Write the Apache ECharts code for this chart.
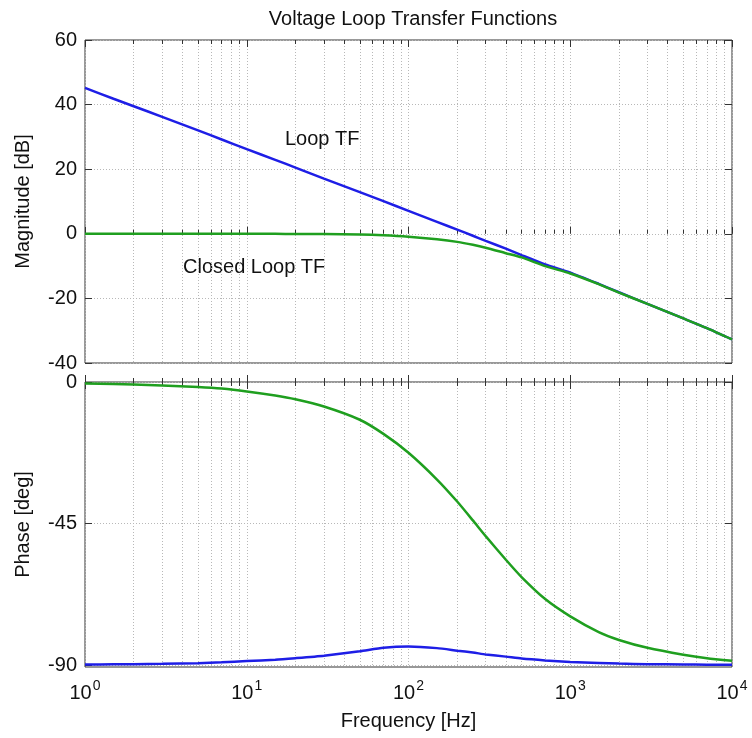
<!DOCTYPE html>
<html>
<head>
<meta charset="utf-8">
<script src="https://cdn.jsdelivr.net/npm/echarts/dist/echarts.min.js"></script>
<style>html,body{margin:0;padding:0;background:#fff}#c{width:752px;height:738px}</style>
</head>
<body>
<div id="c"></div>
<script>
// ---- data ----
const freqs = [1, 1.5, 2, 3, 5, 7, 10, 15, 20, 30, 50, 70, 100, 150, 200, 250, 300, 400, 500, 700, 1000, 1500, 2000, 3000, 5000, 7000, 10000];
const loopMag = [45.2, 41.8, 39.5, 36.2, 32.0, 29.2, 26.2, 22.9, 20.5, 17.1, 12.9, 10.1, 7.1, 3.7, 1.3, -0.6, -2.2, -4.6, -6.6, -9.5, -12.0, -15.5, -18.1, -21.7, -26.2, -29.2, -32.7];
const closedMag = [0, 0, 0, 0, 0, 0, -0.01, -0.02, -0.04, -0.09, -0.22, -0.45, -0.9, -1.7, -2.5, -3.4, -4.3, -6.0, -7.3, -10.0, -12.3, -15.6, -18.2, -21.7, -26.2, -29.2, -32.7];
const loopPhase = [-89.8, -89.75, -89.7, -89.6, -89.4, -89.1, -88.7, -88.3, -87.8, -87.0, -85.6, -84.5, -84.1, -84.6, -85.4, -86.0, -86.6, -87.3, -87.9, -88.5, -89.0, -89.3, -89.5, -89.7, -89.8, -89.85, -89.9];
const closedPhase = [-0.5, -0.65, -0.8, -1.1, -1.6, -2.1, -3.0, -4.3, -5.5, -7.8, -12.0, -16.5, -22.5, -31.0, -38.0, -44.0, -49.0, -56.5, -62.0, -69.0, -74.5, -79.5, -82.0, -84.5, -86.7, -87.8, -88.6];
const majorTicks = [1, 10, 100, 1000, 10000];
const minorTicks = [2,3,4,5,6,7,8,9, 20,30,40,50,60,70,80,90, 200,300,400,500,600,700,800,900, 2000,3000,4000,5000,6000,7000,8000,9000];
const magTicks = [-40, -20, 0, 20, 40, 60];
const phaseTicks = [-90, -45, 0];

const FONT = 'Liberation Sans, Arial, sans-serif';
const BLUE = '#1e1ee6';
const GREEN = '#1f9f1f';
const gridLine = { show: true, lineStyle: { color: '#b8b8b8', type: [1, 2], width: 1 } };

function xAx(gridIndex, position, values, len, split, labels) {
  return {
    type: 'log', logBase: 10, min: 1, max: 10000, gridIndex, position,
    axisLine: { show: false },
    axisTick: { show: true, inside: true, length: len, customValues: values, lineStyle: { color: '#333' } },
    axisLabel: labels ? {
      show: true, customValues: majorTicks, margin: 12, fontFamily: FONT,
      formatter: v => '{b|10}{s|' + Math.round(Math.log10(v)) + '}',
      rich: { b: { fontSize: 20, fontFamily: FONT, color: '#111' }, s: { fontSize: 14, fontFamily: FONT, color: '#111', padding: [0, 0, 14, 1] } }
    } : { show: false },
    splitLine: split ? Object.assign({}, gridLine) : { show: false },
    name: labels ? 'Frequency [Hz]' : '', nameLocation: 'middle', nameGap: 44,
    nameTextStyle: { fontSize: 20, fontFamily: FONT, color: '#111' }
  };
}
function yAx(gridIndex, position, min, max, ticks, labels, name) {
  return {
    type: 'value', gridIndex, position, min, max,
    axisLine: { show: false },
    axisTick: { show: true, inside: true, length: 7, customValues: ticks, lineStyle: { color: '#333' } },
    axisLabel: labels ? { show: true, customValues: ticks, fontSize: 20, fontFamily: FONT, color: '#111', margin: 8 } : { show: false },
    splitLine: labels ? Object.assign({}, gridLine) : { show: false },
    name: labels ? name : '', nameLocation: 'middle', nameGap: 52,
    nameTextStyle: { fontSize: 20, fontFamily: FONT, color: '#111' }
  };
}
const pts = arr => freqs.map((f, i) => [f, arr[i]]);
const lineSeries = (name, xi, yi, arr, color) => ({
  name, type: 'line', xAxisIndex: xi, yAxisIndex: yi, data: pts(arr),
  smooth: 0.2, showSymbol: false, lineStyle: { color, width: 2.5 }
});

const chart = echarts.init(document.getElementById('c'));
chart.setOption({
  animation: false,
  backgroundColor: '#fff',
  title: { text: 'Voltage Loop Transfer Functions', left: 408, top: 4, textAlign: 'center',
    textStyle: { fontSize: 20, fontWeight: 'normal', fontFamily: FONT, color: '#111' } },
  grid: [
    { left: 85, right: 20, top: 40, height: 323, show: true, borderColor: '#333', borderWidth: 1, backgroundColor: 'transparent' },
    { left: 85, right: 20, top: 382, height: 285, show: true, borderColor: '#333', borderWidth: 1, backgroundColor: 'transparent' }
  ],
  xAxis: [
    xAx(0, 'bottom', minorTicks, 4, true, false),
    xAx(0, 'bottom', majorTicks, 7, true, false),
    xAx(0, 'top', minorTicks, 4, false, false),
    xAx(0, 'top', majorTicks, 7, false, false),
    xAx(1, 'bottom', minorTicks, 4, true, false),
    xAx(1, 'bottom', majorTicks, 7, true, true),
    xAx(1, 'top', minorTicks, 4, false, false),
    xAx(1, 'top', majorTicks, 7, false, false)
  ],
  yAxis: [
    yAx(0, 'left', -40, 60, magTicks, true, 'Magnitude [dB]'),
    yAx(0, 'right', -40, 60, magTicks, false, ''),
    yAx(1, 'left', -90.6, 0, phaseTicks, true, 'Phase [deg]'),
    yAx(1, 'right', -90.6, 0, phaseTicks, false, '')
  ],
  graphic: [
    { type: 'text', left: 285, top: 129, style: { text: 'Loop TF', fontSize: 20, fontFamily: FONT, fill: '#111' } },
    { type: 'text', left: 183, top: 257, style: { text: 'Closed Loop TF', fontSize: 20, fontFamily: FONT, fill: '#111' } }
  ],
  series: [
    lineSeries('Loop TF', 0, 0, loopMag, BLUE),
    lineSeries('Closed Loop TF', 0, 0, closedMag, GREEN),
    lineSeries('Loop TF phase', 4, 2, loopPhase, BLUE),
    lineSeries('Closed Loop TF phase', 4, 2, closedPhase, GREEN)
  ]
});
</script>
</body>
</html>
